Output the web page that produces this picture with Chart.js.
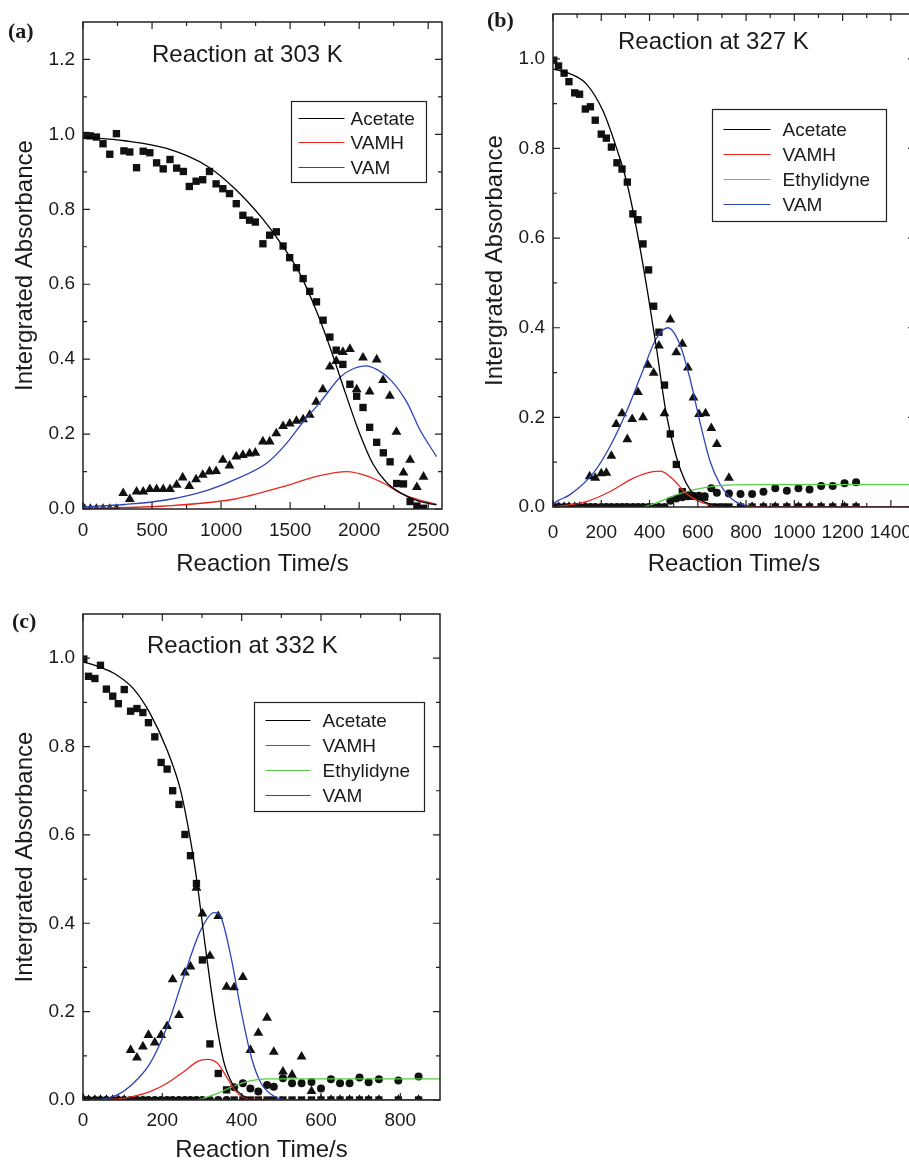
<!DOCTYPE html>
<html>
<head>
<meta charset="utf-8">
<script src="https://cdn.jsdelivr.net/npm/chart.js@4.4.1/dist/chart.umd.min.js"></script>
<style>
  body { margin: 0; width: 909px; height: 1161px; overflow: hidden; background: #fff; position: relative;
         font-family: 'Liberation Sans', Arial, sans-serif; color: #1a1a1a; }
  .panel { position: absolute; }
  .tag { position: absolute; font: bold 22px 'Liberation Serif', 'Times New Roman', serif; line-height: 22px; }
  .title { position: absolute; font-size: 24px; line-height: 24px; white-space: nowrap; }
</style>
</head>
<body>
<div class="panel" style="left:0;top:0"><canvas id="chartA" width="460" height="580"></canvas></div>
<div class="panel" style="left:460px;top:0"><canvas id="chartB" width="470" height="580"></canvas></div>
<div class="panel" style="left:0;top:590px"><canvas id="chartC" width="460" height="580"></canvas></div>

<div class="tag" style="left:8px;top:20px">(a)</div>
<div class="tag" style="left:487px;top:9px">(b)</div>
<div class="tag" style="left:12px;top:610px">(c)</div>
<div class="title" style="left:152px;top:42px">Reaction at 303 K</div>
<div class="title" style="left:618px;top:29px">Reaction at 327 K</div>
<div class="title" style="left:147px;top:633px">Reaction at 332 K</div>

<script>
// tick labels
const aXTicks = [0, 500, 1000, 1500, 2000, 2500];
const bXTicks = [0, 200, 400, 600, 800, 1000, 1200, 1400];
const cXTicks = [0, 200, 400, 600, 800];
const aYTicks = [0, 0.2, 0.4, 0.6, 0.8, 1.0, 1.2];
const bcYTicks = [0, 0.2, 0.4, 0.6, 0.8, 1.0];

// ---- (a) 303 K ----
const aSqT  = [19,53,97,145,194,242,296,339,388,436,484,533,581,630,678,727,770,819,867,916,964,1013,1061,1110,1158,1206,1248,1303,1352,1400,1449,1497,1546,1594,1642,1691,1739,1788,1834,1882,1933,1982,2028,2076,2127,2175,2224,2272,2321,2369,2418,2466];
const aSqV  = [0.997,0.996,0.993,0.975,0.947,1.002,0.956,0.953,0.911,0.955,0.951,0.924,0.908,0.933,0.910,0.901,0.861,0.875,0.879,0.901,0.868,0.855,0.842,0.815,0.784,0.771,0.766,0.708,0.731,0.740,0.702,0.671,0.644,0.615,0.581,0.553,0.504,0.459,0.424,0.386,0.333,0.301,0.271,0.218,0.178,0.150,0.126,0.068,0.067,0.020,0.008,0.002];
const aTriT = [12,53,97,145,194,242,291,339,388,436,484,533,581,630,678,722,770,819,867,916,964,1013,1061,1110,1158,1206,1248,1303,1352,1400,1449,1497,1546,1594,1642,1689,1737,1788,1834,1882,1933,1982,2028,2076,2127,2173,2222,2270,2321,2369,2418,2466];
const aTriV = [0,0,0,0,0,0,0.042,0.026,0.046,0.046,0.053,0.053,0.053,0.053,0.064,0.084,0.061,0.079,0.091,0.100,0.101,0.131,0.116,0.140,0.144,0.148,0.150,0.180,0.180,0.202,0.221,0.228,0.235,0.239,0.251,0.286,0.319,0.380,0.395,0.419,0.427,0.319,0.404,0.313,0.399,0.344,0.302,0.206,0.097,0.131,0.058,0.086];
const aFitAcT   = [0,300,600,900,1100,1300,1450,1575,1700,1800,1900,2000,2100,2200,2300,2400,2500,2560];
const aFitAcV   = [0.993,0.983,0.963,0.915,0.855,0.775,0.700,0.625,0.520,0.420,0.310,0.205,0.120,0.070,0.043,0.025,0.015,0.011];
const aFitVamhT = [0,600,1090,1450,1700,1910,2060,2180,2300,2420,2560];
const aFitVamhV = [0.002,0.008,0.026,0.060,0.088,0.100,0.088,0.068,0.042,0.026,0.013];
const aFitVamT  = [0,300,600,900,1090,1330,1450,1600,1720,1866,1960,2047,2130,2229,2350,2435,2560];
const aFitVamV  = [0.006,0.012,0.024,0.050,0.077,0.122,0.165,0.235,0.286,0.353,0.375,0.382,0.372,0.344,0.282,0.215,0.140];

// ---- (b) 327 K ----
const bSqT  = [3,23,46,66,90,110,134,155,175,200,221,242,265,286,308,331,352,373,396,417,439,462,486,511,536,559,580,605,628,656,679,705,729,777,825,872,921,969,1017,1063,1111,1159,1208,1256];
const bSqV  = [0.997,0.984,0.968,0.949,0.924,0.921,0.888,0.893,0.863,0.832,0.823,0.803,0.768,0.754,0.725,0.654,0.641,0.587,0.529,0.448,0.390,0.272,0.163,0.095,0.034,0.027,0.024,0.023,0.022,0,0,0,0,0,0,0,0,0,0,0,0,0,0,0];
const bTriT = [3,23,46,66,90,110,134,152,175,200,221,242,262,286,308,328,352,373,393,417,439,462,486,511,536,559,582,605,632,656,679,729,777,825,872,921,969,1017,1063,1111,1159,1208,1256];
const bTriV = [0,0,0,0,0,0,0,0.068,0.065,0.075,0.076,0.114,0.185,0.209,0.151,0.196,0.256,0.200,0.317,0.299,0.360,0.209,0.418,0.345,0.364,0.311,0.244,0.207,0.209,0.176,0.140,0.065,0,0,0,0,0,0,0,0,0,0,0];
const bCirT = [3,23,46,66,90,110,134,155,175,200,221,242,265,286,308,331,352,373,396,417,439,462,486,511,536,559,580,605,628,656,679,729,777,825,872,921,969,1017,1063,1111,1159,1208,1256];
const bCirV = [0,0,0,0,0,0,0,0,0,0,0,0,0,0,0,0,0,0,0,0,0,0,0.014,0.019,0.022,0.024,0.025,0.025,0.024,0.042,0.032,0.030,0.029,0.029,0.034,0.042,0.036,0.042,0.039,0.047,0.047,0.053,0.055];
const bFitAcT   = [0,69,138,207,262,304,345,393,428,469,511,552,593,649,718,800];
const bFitAcV   = [0.977,0.967,0.944,0.884,0.803,0.728,0.624,0.476,0.357,0.209,0.112,0.053,0.023,0.007,0.001,0];
const bFitVamhT = [0,138,235,331,414,445,497,552,607,690,800,1500];
const bFitVamhV = [0,0.012,0.034,0.064,0.079,0.080,0.062,0.030,0.012,0.002,0,0];
const bFitEthT  = [380,442,511,580,649,718,856,1500];
const bFitEthV  = [0,0.012,0.027,0.038,0.045,0.049,0.050,0.050];
const bFitVamT  = [0,14,69,166,235,304,373,428,476,524,566,607,649,690,745,814,900,1500];
const bFitVamV  = [0.005,0.012,0.027,0.075,0.134,0.212,0.305,0.376,0.400,0.365,0.290,0.194,0.105,0.053,0.016,0.002,0,0];

// ---- (c) 332 K ----
const cT    = [2,14,30,44,59,75,89,104,120,136,151,165,181,197,212,226,242,257,271,286,301,320,341,362,381,403,422,442,464,481,504,527,551,576,600,625,648,672,697,720,746,795,846];
const cSqV  = [0.998,0.959,0.954,0.984,0.930,0.914,0.897,0.929,0.880,0.886,0.877,0.854,0.822,0.764,0.749,0.700,0.669,0.601,0.553,0.490,0.317,0.127,0.060,0.023,0,0,0,0,0,0,0,0,0,0,0,0,0,0,0,0,0,0,0];
const cTriV = [0,0,0,0,0,0,0,0,0.113,0.096,0.121,0.147,0.130,0.147,0.167,0.273,0.192,0.288,0.302,0.480,0.422,0.326,0.416,0.256,0.255,0.278,0.113,0.152,0.186,0.109,0.064,0.057,0.098,0.020,0,0,0,0,0,0,0,0,0];
const cCirV = [0,0,0,0,0,0,0,0,0,0,0,0,0,0,0,0,0,0,0,0,0,0,0,0,0.029,0.038,0.026,0.019,0.034,0.030,0.049,0.038,0.038,0.041,0.026,0.047,0.038,0.038,0.051,0.040,0.047,0.044,0.053];
const cFitAcT   = [0,42,85,127,169,212,246,271,288,305,322,339,356,381,407,449,460];
const cFitAcV   = [0.992,0.980,0.962,0.931,0.875,0.792,0.701,0.588,0.490,0.370,0.256,0.158,0.083,0.030,0.008,0,0];
const cFitVamhT = [0,85,127,169,212,254,288,314,339,364,390,424,520];
const cFitVamhV = [0,0.002,0.008,0.019,0.038,0.064,0.087,0.092,0.083,0.049,0.015,0.002,0];
const cFitEthT  = [290,297,339,381,424,466,551,900];
const cFitEthV  = [0,0.002,0.015,0.032,0.044,0.048,0.048,0.048];
const cFitVamT  = [0,42,85,127,169,212,254,297,331,347,373,398,424,449,483,517,900];
const cFitVamV  = [0,0.001,0.011,0.038,0.083,0.166,0.279,0.385,0.424,0.415,0.324,0.204,0.098,0.038,0.008,0,0];

const RED = '#e8281e', GREEN = '#55cc44', BLUE = '#2c44b8', INK = '#1a1a1a';

const pts = (t, v) => t.map((x, i) => ({ x, y: v[i] }));

function fit(label, t, v, color) {
  return { label, data: pts(t, v), showLine: true, borderColor: color, borderWidth: 1.3,
           pointRadius: 0, pointHoverRadius: 0, cubicInterpolationMode: 'monotone', order: 0, clip: 0 };
}
function marks(t, v, style, r) {
  return { label: '', data: pts(t, v), showLine: false, pointStyle: style, pointRadius: r,
           pointHoverRadius: r, backgroundColor: '#111', borderColor: '#111', borderWidth: 0, order: 1, clip: 0 };
}

// frame on all four sides with inward major/minor ticks
const frameTicks = {
  id: 'frameTicks',
  afterDraw(chart) {
    const { ctx, chartArea: a, scales: { x, y } } = chart;
    ctx.save();
    ctx.strokeStyle = '#222';
    ctx.lineWidth = 1.5;
    ctx.strokeRect(a.left, a.top, a.right - a.left, a.bottom - a.top);
    ctx.lineWidth = 1.2;
    const withMinor = scale => {
      const vals = scale.ticks.map(t => t.value);
      const step = vals[1] - vals[0];
      const out = vals.map(v => [v, 7]);
      vals.forEach(v => { if (v + step / 2 < scale.max - 1e-9) out.push([v + step / 2, 4]); });
      return out;
    };
    ctx.beginPath();
    withMinor(x).forEach(([v, len]) => {
      const px = x.getPixelForValue(v);
      ctx.moveTo(px, a.bottom); ctx.lineTo(px, a.bottom - len);
      ctx.moveTo(px, a.top); ctx.lineTo(px, a.top + len);
    });
    withMinor(y).forEach(([v, len]) => {
      const py = y.getPixelForValue(v);
      ctx.moveTo(a.left, py); ctx.lineTo(a.left + len, py);
      ctx.moveTo(a.right, py); ctx.lineTo(a.right - len, py);
    });
    ctx.stroke();
    ctx.restore();
  }
};

// boxed legend inside the plot, fit lines only
const boxLegend = {
  id: 'boxLegend',
  afterDatasetsDraw(chart, args, opts) {
    const { ctx, chartArea: a } = chart;
    const items = chart.data.datasets.filter(d => d.showLine);
    const x0 = Math.round(a.left + opts.left) + 0.5, y0 = Math.round(a.top + opts.top) + 0.5;
    ctx.save();
    ctx.fillStyle = '#fff';
    ctx.fillRect(x0, y0, opts.width, opts.height);
    ctx.strokeStyle = '#222';
    ctx.lineWidth = 1.2;
    ctx.strokeRect(x0, y0, opts.width, opts.height);
    ctx.font = '19px "Liberation Sans", Arial, sans-serif';
    ctx.textBaseline = 'middle';
    ctx.fillStyle = INK;
    items.forEach((d, i) => {
      const yy = Math.round(y0 + opts.first + i * opts.gap) + 0.5;
      ctx.strokeStyle = d.borderColor;
      ctx.lineWidth = 1.2;
      ctx.beginPath();
      ctx.moveTo(x0 + opts.lineX, yy);
      ctx.lineTo(x0 + opts.lineX + opts.lineLen, yy);
      ctx.stroke();
      ctx.fillText(d.label, x0 + opts.textX, yy + 1);
    });
    ctx.restore();
  }
};

function makeChart(id, cfg) {
  return new Chart(document.getElementById(id), {
    type: 'scatter',
    data: { datasets: cfg.datasets },
    options: {
      responsive: false,
      animation: false,
      events: [],
      layout: { padding: cfg.padding },
      plugins: { legend: { display: false }, tooltip: { enabled: false }, boxLegend: cfg.legend },
      scales: {
        x: {
          type: 'linear', min: 0, max: cfg.xMax,
          afterBuildTicks: s => { s.ticks = cfg.xTicks.map(value => ({ value })); },
          ticks: { autoSkip: false, maxRotation: 0, padding: cfg.xPad, color: INK, font: { size: 19 },
                   callback: v => String(v) },
          grid: { drawOnChartArea: false, drawTicks: false },
          border: { display: false },
          title: { display: true, text: 'Reaction Time/s', color: INK, font: { size: 24 },
                   padding: { top: 0, bottom: cfg.xTitlePad } },
          afterFit: s => { s.height = cfg.xHeight; s.paddingLeft = 0; s.paddingRight = 0; }
        },
        y: {
          type: 'linear', min: 0, max: cfg.yMax,
          afterBuildTicks: s => { s.ticks = cfg.yTicks.map(value => ({ value })); },
          ticks: { padding: 8, color: INK, font: { size: 19 }, callback: v => Number(v).toFixed(1) },
          grid: { drawOnChartArea: false, drawTicks: false },
          border: { display: false },
          title: { display: true, text: 'Intergrated Absorbance', color: INK, font: { size: 24 },
                   padding: { top: cfg.yTitlePad, bottom: 0 } },
          afterFit: s => { s.width = cfg.yWidth; s.paddingTop = 0; s.paddingBottom = 0; }
        }
      }
    },
    plugins: [frameTicks, boxLegend]
  });
}

makeChart('chartA', {
  xMax: 2600, xTicks: aXTicks, yMax: 1.3, yTicks: aYTicks, yWidth: 83, xHeight: 71, xPad: 10, xTitlePad: 1, yTitlePad: 11,
  padding: { top: 22, right: 18, left: 0, bottom: 0 },
  legend: { left: 208, top: 79, width: 135, height: 81, first: 16, gap: 24.5, lineX: 7, lineLen: 46, textX: 59 },
  datasets: [
    fit('Acetate', aFitAcT, aFitAcV, '#000'),
    fit('VAMH', aFitVamhT, aFitVamhV, RED),
    fit('VAM', aFitVamT, aFitVamV, BLUE),
    marks(aSqT, aSqV, 'rect', 5.2),
    marks(aTriT, aTriV, 'triangle', 5.7)
  ]
});

makeChart('chartB', {
  xMax: 1500, xTicks: bXTicks, yMax: 1.1, yTicks: bcYTicks, yWidth: 93, xHeight: 73, xPad: 14, xTitlePad: 1, yTitlePad: 21,
  padding: { top: 14, right: 15, left: 0, bottom: 0 },
  legend: { left: 159, top: 95, width: 174, height: 112, first: 19, gap: 25.3, lineX: 11, lineLen: 47, textX: 70 },
  datasets: [
    fit('Acetate', bFitAcT, bFitAcV, '#000'),
    fit('VAMH', bFitVamhT, bFitVamhV, RED),
    fit('Ethylidyne', bFitEthT, bFitEthV, GREEN),
    fit('VAM', bFitVamT, bFitVamV, BLUE),
    marks(bSqT, bSqV, 'rect', 5.2),
    marks(bTriT, bTriV, 'triangle', 5.7),
    marks(bCirT, bCirV, 'circle', 4)
  ]
});

makeChart('chartC', {
  xMax: 900, xTicks: cXTicks, yMax: 1.1, yTicks: bcYTicks, yWidth: 83, xHeight: 70, xPad: 9, xTitlePad: 5, yTitlePad: 11,
  padding: { top: 24, right: 20, left: 0, bottom: 0 },
  legend: { left: 171, top: 88, width: 170, height: 109, first: 17, gap: 25.3, lineX: 11, lineLen: 45, textX: 68 },
  datasets: [
    fit('Acetate', cFitAcT, cFitAcV, '#000'),
    fit('VAMH', cFitVamhT, cFitVamhV, RED),
    fit('Ethylidyne', cFitEthT, cFitEthV, GREEN),
    fit('VAM', cFitVamT, cFitVamV, BLUE),
    marks(cT, cSqV, 'rect', 5.2),
    marks(cT, cTriV, 'triangle', 5.7),
    marks(cT, cCirV, 'circle', 4)
  ]
});
</script>
</body>
</html>
